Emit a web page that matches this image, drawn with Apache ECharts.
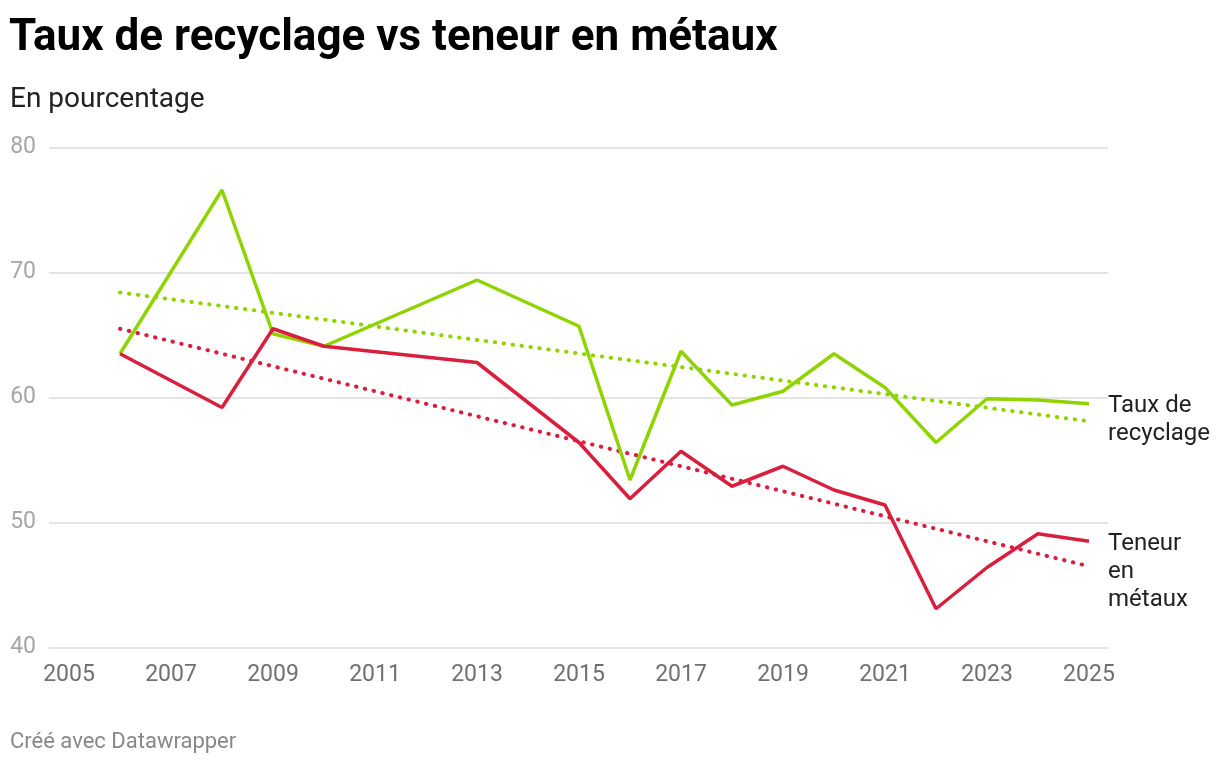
<!DOCTYPE html>
<html>
<head>
<meta charset="utf-8">
<script src="https://cdn.jsdelivr.net/npm/echarts@6/dist/echarts.min.js"></script>
<style>
	html, body { margin: 0; padding: 0; background: #fff; }
	#chart { width: 1220px; height: 764px; }
</style>
</head>
<body>
<div id="chart"></div>
<script>
var years = [2006, 2008, 2009, 2010, 2013, 2015, 2016, 2017, 2018, 2019, 2020, 2021, 2022, 2023, 2024, 2025];
var recyclage = [63.5, 76.6, 65.1, 64.1, 69.4, 65.7, 53.4, 63.7, 59.4, 60.5, 63.5, 60.8, 56.4, 59.9, 59.8, 59.5];
var metaux = [63.5, 59.2, 65.5, 64.1, 62.8, 56.4, 51.9, 55.7, 52.9, 54.5, 52.6, 51.4, 43.1, 46.4, 49.1, 48.5];

// tendances (debut et fin)
var trendYears = [2006, 2025];
var trendRecyclage = [68.4, 58.1];
var trendMetaux = [65.5, 46.5];

var xTicks = [2005, 2007, 2009, 2011, 2013, 2015, 2017, 2019, 2021, 2023, 2025];
var yTicks = [40, 50, 60, 70, 80];

var green = '#8fd400';
var red = '#d91f3d';

function pairs(xs, ys) {
	return xs.map(function(x, i) {
		return [x, ys[i]];
	});
}

var chart = echarts.init(document.getElementById('chart'));
chart.setOption({
	backgroundColor: '#fff',
	animation: false,
	textStyle: {
		fontFamily: 'Roboto'
	},
	title: [{
		text: 'Taux de recyclage vs teneur en métaux',
		left: 9,
		top: 17,
		padding: 0,
		textStyle: {
			fontFamily: 'Roboto',
			fontSize: 44,
			fontWeight: 'bold',
			color: '#000'
		}
	}, {
		text: 'En pourcentage',
		left: 10,
		top: 86,
		padding: 0,
		textStyle: {
			fontFamily: 'Roboto',
			fontSize: 28,
			fontWeight: 'normal',
			color: '#222'
		}
	}, {
		text: 'Créé avec Datawrapper',
		left: 10,
		top: 731,
		padding: 0,
		textStyle: {
			fontFamily: 'Roboto',
			fontSize: 22,
			fontWeight: 'normal',
			color: '#888'
		}
	}],
	grid: {
		left: 49,
		right: 112,
		top: 147.5,
		bottom: 116.5
	},
	xAxis: {
		type: 'value',
		min: 2004.608,
		max: 2025.373,
		axisLine: { show: false },
		axisTick: { show: false },
		splitLine: { show: false },
		axisLabel: {
			customValues: xTicks,
			formatter: function(v) {
				return String(v);
			},
			margin: 16,
			fontSize: 23,
			color: '#707070'
		}
	},
	yAxis: {
		type: 'value',
		min: 40,
		max: 80,
		interval: 10,
		axisLine: { show: false },
		axisTick: { show: false },
		splitLine: {
			lineStyle: {
				color: '#e4e4e4',
				width: 2
			}
		},
		axisLabel: {
			customValues: yTicks,
			margin: 13,
			fontSize: 23,
			color: '#a6a6a6'
		}
	},
	graphic: [{
		type: 'text',
		left: 1108,
		top: 392,
		style: {
			text: 'Taux de\nrecyclage',
			fontFamily: 'Roboto',
			fontSize: 24,
			lineHeight: 28,
			fill: '#222'
		}
	}, {
		type: 'text',
		left: 1108,
		top: 530,
		style: {
			text: 'Teneur\nen\nmétaux',
			fontFamily: 'Roboto',
			fontSize: 24,
			lineHeight: 28,
			fill: '#222'
		}
	}],
	series: [{
		name: 'Tendance recyclage',
		type: 'line',
		data: pairs(trendYears, trendRecyclage),
		symbol: 'none',
		silent: true,
		lineStyle: {
			color: green,
			width: 4,
			type: [0.5, 8.5],
			cap: 'round'
		}
	}, {
		name: 'Tendance métaux',
		type: 'line',
		data: pairs(trendYears, trendMetaux),
		symbol: 'none',
		silent: true,
		lineStyle: {
			color: red,
			width: 4,
			type: [0.5, 8.5],
			cap: 'round'
		}
	}, {
		name: 'Taux de recyclage',
		type: 'line',
		data: pairs(years, recyclage),
		symbol: 'none',
		lineStyle: {
			color: green,
			width: 3.5
		}
	}, {
		name: 'Teneur en métaux',
		type: 'line',
		data: pairs(years, metaux),
		symbol: 'none',
		lineStyle: {
			color: red,
			width: 3.5
		}
	}]
});
</script>
</body>
</html>
